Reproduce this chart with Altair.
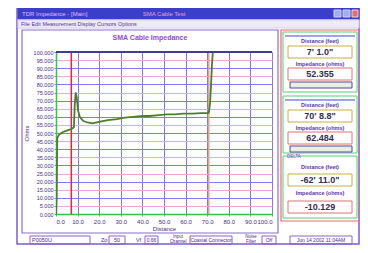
import altair as alt
import pandas as pd

# ---- data ----
distance = [0.0, 0.3, 0.6, 1.5, 3.0, 5.0, 7.08, 8.3, 8.7, 9.1, 9.6, 10.2, 11.0, 12.5, 14.5,
            17.0, 20.4, 24.0, 28.2, 32.0, 35.6, 40.0, 43.5, 47.5, 51.4, 55.0, 58.8, 63.4,
            67.0, 69.9, 70.73, 71.3, 71.8, 72.2, 72.6]
impedance = [0.0, 10.0, 47.0, 49.0, 50.5, 51.5, 52.36, 53.5, 68.0, 75.0, 72.0, 64.0, 60.0, 57.5,
             56.5, 56.0, 57.0, 58.0, 58.5, 59.5, 60.0, 60.5, 60.5, 61.0, 61.5, 61.5, 62.0,
             62.0, 62.3, 62.3, 62.48, 68.0, 80.0, 92.0, 100.0]
cursors = [7.08, 70.73]
x_ticks = [0, 10, 20, 30, 40, 50, 60, 70, 80, 90, 100]
y_ticks = [0, 5, 10, 15, 20, 25, 30, 35, 40, 45, 50, 55, 60, 65, 70, 75, 80, 85, 90, 95, 100]

window_title = "TDR Impedance - [Main]"
window_caption = "SMA Cable Test"
menu_text = "File  Edit  Measurement  Display  Cursors  Options"
chart_title = "SMA Cable Impedance"
cursor1_dist = "7' 1.0\""
cursor1_imp = "52.355"
cursor2_dist = "70' 8.8\""
cursor2_imp = "62.484"
delta_dist = "-62' 11.0\""
delta_imp = "-10.129"
dist_label = "Distance (feet)"
imp_label = "Impedance (ohms)"
file_name = "P0050U"
zo_value = "50"
vf_value = "0.66"
channel_value = "Coaxial Connector"
filter_value = "Off"
date_value = "Jun 14 2002   11:04AM"

W, H = 216, 162
FONT = "Liberation Sans"

trace_df = pd.DataFrame({"d": distance, "z": impedance})
cur_df = pd.DataFrame({"d": cursors, "c": ["c1", "c2"]})
dummy = alt.Data(values=[{"a": 1}])

xscale = alt.Scale(domain=[0, 100], nice=False, zero=False)
yscale = alt.Scale(domain=[0, 100], nice=False, zero=False)

grid_color = alt.condition("datum.value % 10 === 0", alt.value("#7b7bff"), alt.value("#e9a6e0"))

xaxis = alt.Axis(values=x_ticks, format=".1f", title="Distance", labelFontSize=6, titleFontSize=6,
                 titleFontWeight="normal", tickSize=2, labelPadding=2, titlePadding=1,
                 domainColor="#39c04a", domainWidth=1.5, gridColor="#8a72f6",
                 labelColor="#4a2a8a", titleColor="#4a2a8a", tickColor="#39c04a",
                 labelFont=FONT, titleFont=FONT)
yaxis = alt.Axis(values=y_ticks, format=".3f", title="Ohms", labelFontSize=5.5, titleFontSize=6,
                 titleFontWeight="normal", tickSize=2, labelPadding=1, titlePadding=4,
                 domainColor="#39c04a", domainWidth=1.5, gridColor=grid_color,
                 labelColor="#4a2a8a", titleColor="#4a2a8a", tickColor="#39c04a",
                 labelFont=FONT, titleFont=FONT)


def box(x1, y1, x2, y2, fill="transparent", stroke="#8a70d0", sw=1):
    return alt.Chart(dummy).mark_rect(fill=fill, stroke=stroke, strokeWidth=sw).encode(
        x=alt.value(x1), x2=alt.value(x2), y=alt.value(y1), y2=alt.value(y2))


def label(x, y, txt, size=6, color="#4a2a8a", weight="normal", align="left"):
    return alt.Chart(dummy).mark_text(fontSize=size, color=color, fontWeight=weight, align=align,
                                      baseline="middle", font=FONT).encode(
        x=alt.value(x), y=alt.value(y), text=alt.value(txt))


layers = []
# window chrome
layers.append(box(-39, -44, 303, 192, stroke="#7a5cd6", sw=1.5))
layers.append(box(-38, -44, 303, -33, fill="#3a3ec8", stroke="#3a3ec8"))
layers.append(label(-34, -38.5, window_title, size=6, color="#e6b8ff"))
layers.append(label(108, -38.5, window_caption, size=6, color="#f0a0d0", align="center"))
layers.append(box(278, -42, 285, -35, fill="#9fb0e8", stroke="#d0d0ff"))
layers.append(box(287, -42, 294, -35, fill="#9fb0e8", stroke="#d0d0ff"))
layers.append(box(296, -42, 302, -35, fill="#e07070", stroke="#ffd0d0"))
layers.append(box(-38, -32, 303, -24, fill="#ececf4", stroke="#d8d0f0"))
layers.append(label(-35, -28, menu_text, size=5.5, color="#5a2aa0"))
# chart panel
layers.append(box(-34, -22, 222, 181, stroke="#8a70d0", sw=1.2))
layers.append(label(94, -14, chart_title, size=7, color="#9048d8", weight="bold", align="center"))

# data plot
base = alt.Chart(trace_df)
cur = alt.Chart(cur_df).mark_rule(strokeWidth=1.5).encode(
    x=alt.X("d:Q", scale=xscale, axis=xaxis),
    color=alt.Color("c:N", scale=alt.Scale(domain=["c1", "c2"], range=["#e8204a", "#e0a888"]),
                    legend=None))
line = base.mark_line(color="#4f7d2a", strokeWidth=1.8, clip=True).encode(
    x=alt.X("d:Q", scale=xscale, axis=xaxis),
    y=alt.Y("z:Q", scale=yscale, axis=yaxis))
layers.append(cur)
layers.append(line)
layers.append(alt.Chart(dummy).mark_rule(color="#3c3c90", strokeWidth=2).encode(
    x=alt.value(0), x2=alt.value(W), y=alt.value(0)))

# side panel
layers.append(box(225, -22, 304, 169, stroke="#e86a6a", sw=1.2))
panels = [
    (-20, 40, cursor1_dist, cursor1_imp, False),
    (44, 101, cursor2_dist, cursor2_imp, False),
    (104, 166, delta_dist, delta_imp, True),
]
for top, bottom, dtxt, itxt, is_delta in panels:
    layers.append(box(227, top, 301, bottom, stroke="#50d070", sw=1))
    if is_delta:
        layers.append(label(231, top + 1, "DELTA", size=4.5, color="#6a4ab0"))
        dy, vy, iy, ivy = top + 11, top + 24, top + 37, top + 51
    else:
        layers.append(alt.Chart(dummy).mark_rule(color="#3a4ad8", strokeWidth=1).encode(
            x=alt.value(229), x2=alt.value(299), y=alt.value(top + 4)))
        dy, vy, iy, ivy = top + 9, top + 20, top + 32, top + 42
    layers.append(label(264, dy, dist_label, size=5.5, color="#5a30b0", weight="bold", align="center"))
    layers.append(box(232, vy - 6, 296, vy + 6, stroke="#c8b040", sw=1))
    layers.append(label(264, vy, dtxt, size=9, color="#303050", weight="bold", align="center"))
    layers.append(label(264, iy, imp_label, size=5.5, color="#5a30b0", weight="bold", align="center"))
    layers.append(box(232, ivy - 6, 296, ivy + 6, stroke="#e07070", sw=1))
    layers.append(label(264, ivy, itxt, size=9, color="#303050", weight="bold", align="center"))
    if not is_delta:
        layers.append(box(234, ivy + 8, 296, ivy + 14, fill="#e8f0e0", stroke="#6040a0", sw=1))

# bottom status bar
layers.append(box(-26, 184, 34, 192, stroke="#9060c0"))
layers.append(label(-24, 188, file_name, size=5.5))
layers.append(label(45, 188, "Zo", size=5.5))
layers.append(box(53, 184, 69, 192, stroke="#9060c0"))
layers.append(label(61, 188, zo_value, size=5.5, align="center"))
layers.append(label(80, 188, "Vf", size=5.5))
layers.append(box(89, 184, 102, 192, stroke="#9060c0"))
layers.append(label(95.5, 188, vf_value, size=5, align="center"))
layers.append(label(122, 185, "Input", size=4.5, align="center"))
layers.append(label(122, 190, "Channel", size=4.5, align="center"))
layers.append(box(134, 184, 176, 192, stroke="#9060c0"))
layers.append(label(155, 188, channel_value, size=5, align="center"))
layers.append(label(195, 185, "Noise", size=4.5, align="center"))
layers.append(label(195, 190, "Filter", size=4.5, align="center"))
layers.append(box(206, 184, 220, 192, stroke="#9060c0"))
layers.append(label(213, 188, filter_value, size=5, align="center"))
layers.append(box(234, 184, 296, 192, stroke="#9060c0"))
layers.append(label(265, 188, date_value, size=5, align="center"))

chart = alt.layer(*layers).properties(
    width=W, height=H,
    autosize=alt.AutoSizeParams(type="none"),
    padding={"left": 48, "top": 44, "right": 88, "bottom": 31},
    background="white",
).configure_view(strokeWidth=0)

chart.save("out.html", embed_options={"renderer": "svg", "actions": False})
